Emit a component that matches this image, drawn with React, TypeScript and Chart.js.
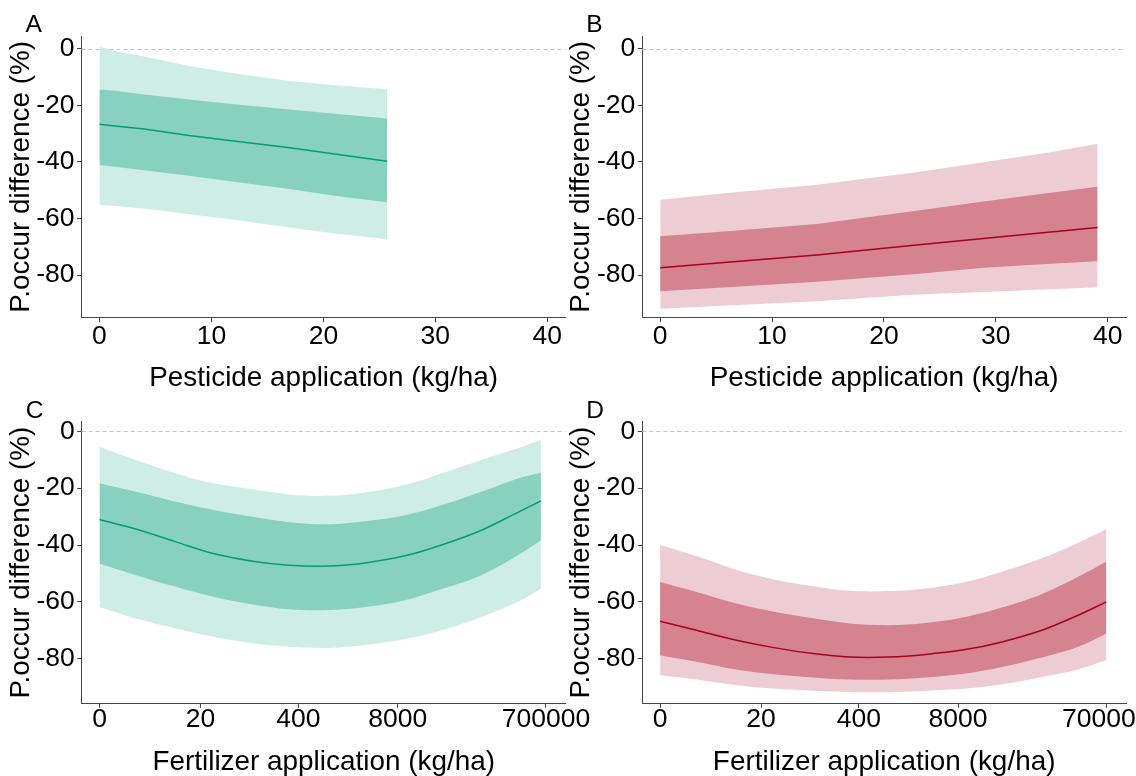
import React, { useEffect, useRef } from "react";
import { Chart, registerables } from "chart.js";

Chart.register(...registerables);

const FONT = '"Liberation Sans", Arial, Helvetica, sans-serif';

// ---------- Panel A : pesticide (teal) ----------
const pestA_x = [0, 1.2, 4, 8, 12, 17, 21, 25.7];
const pestA_outerHi = [0.7, -0.7, -2.8, -6.1, -8.7, -11.4, -12.9, -14.3];
const pestA_innerHi = [-14.4, -14.8, -16.2, -18.0, -19.6, -21.5, -23.0, -24.7];
const pestA_mean = [-26.7, -27.2, -28.4, -30.7, -32.6, -35.0, -37.2, -39.8];
const pestA_innerLo = [-41.1, -41.6, -43.0, -44.9, -47.0, -49.6, -52.0, -54.3];
const pestA_outerLo = [-55.2, -55.5, -56.5, -58.5, -60.5, -63.2, -65.3, -67.4];

// ---------- Panel B : pesticide (red) ----------
const pestB_x = [0, 6, 14, 22.9, 28.9, 34.9, 39.1];
const pestB_outerHi = [-53.4, -51.0, -48.1, -43.7, -40.1, -36.6, -33.6];
const pestB_innerHi = [-66.3, -64.5, -62.0, -57.3, -54.0, -50.9, -48.8];
const pestB_mean = [-77.4, -75.5, -72.9, -69.4, -67.1, -64.8, -63.2];
const pestB_innerLo = [-85.7, -84.3, -82.4, -79.6, -77.4, -76.0, -75.1];
const pestB_outerLo = [-91.9, -90.8, -89.3, -86.9, -86.0, -85.0, -84.3];

// ---------- Panel C : fertilizer (teal) ----------
const fertC_x = [0, 2, 9, 30, 100, 300, 1000, 3000, 10000, 30000, 100000, 300000, 600000];
const fertC_outerHi = [-5.4, -10.1, -14.8, -18.3, -20.4, -22.2, -22.7, -21.5, -18.9, -14.8, -10.1, -6.0, -3.1];
const fertC_innerHi = [-18.3, -21.3, -24.8, -27.7, -30.1, -32.0, -32.7, -31.6, -29.5, -26.0, -21.3, -16.6, -14.6];
const fertC_mean = [-31.0, -34.4, -38.9, -43.0, -45.7, -47.1, -47.4, -46.3, -43.8, -40.0, -34.8, -28.5, -24.5];
const fertC_innerLo = [-46.5, -50.6, -54.7, -58.2, -60.9, -62.6, -62.9, -61.8, -59.4, -55.5, -50.6, -43.6, -38.3];
const fertC_outerLo = [-61.8, -65.9, -69.4, -72.3, -74.6, -75.8, -76.2, -75.2, -73.1, -70.0, -65.3, -60.0, -55.3];

// ---------- Panel D : fertilizer (red) ----------
const fertD_x = [0, 2, 9, 30, 100, 300, 1000, 3000, 10000, 30000, 100000, 300000, 700000];
const fertD_outerHi = [-40.0, -43.9, -48.8, -52.1, -54.5, -56.1, -56.2, -55.3, -53.0, -49.4, -44.7, -39.2, -34.5];
const fertD_innerHi = [-53.0, -56.5, -60.6, -63.5, -65.8, -67.6, -68.2, -67.4, -65.3, -62.0, -57.3, -51.2, -45.9];
const fertD_mean = [-66.8, -70.0, -73.5, -76.1, -78.2, -79.4, -79.4, -78.5, -76.8, -74.1, -70.0, -64.7, -60.0];
const fertD_innerLo = [-78.8, -81.1, -83.8, -85.5, -86.6, -87.3, -87.3, -86.6, -85.2, -82.9, -79.6, -75.8, -71.1];
const fertD_outerLo = [-85.8, -87.3, -89.3, -90.5, -91.3, -91.7, -91.8, -91.3, -90.5, -89.0, -86.4, -83.8, -80.5];

// ---------- Axes ----------
const yTickValues = [-80, -60, -40, -20, 0];
const yTickLabels = ["-80", "-60", "-40", "-20", "0"];
const pestTickValues = [0, 10, 20, 30, 40];
const pestTickLabels = ["0", "10", "20", "30", "40"];
const fertTickValues = [0, 20, 400, 8000, 700000];
const fertTickLabels = ["0", "20", "400", "8000", "700000"];

const yTitle = "P.occur difference (%)";
const pestTitle = "Pesticide application (kg/ha)";
const fertTitle = "Fertilizer application (kg/ha)";

const TEAL = { line: "#009E73", inner: "#88D1C1", outer: "#CDEDE5" };
const RED = { line: "#A8001E", inner: "#D4838F", outer: "#EDCCD3" };

const logT = (v: number) => Math.log10(v + 1);
const ident = (v: number) => v;

const W = 1136;
const H = 776;
const YW = 60;
const XH = 40;
const TICK_SIZE = 26.5;
const TITLE_SIZE = 27.9;

interface Panel {
  letter: string;
  xTitle: string;
  xs: number[];
  tf: (v: number) => number;
  outerHi: number[];
  innerHi: number[];
  mean: number[];
  innerLo: number[];
  outerLo: number[];
  col: { line: string; inner: string; outer: string };
  area: { l: number; r: number; t: number; b: number };
  xMin: number;
  xMax: number;
  yMin: number;
  yMax: number;
  xTickVals: number[];
  xTickLabels: string[];
  xPad: number;
  xTitleOff: number;
  smooth: boolean;
}

const panels: Panel[] = [
  {
    letter: "A", xTitle: pestTitle, xs: pestA_x, tf: ident,
    outerHi: pestA_outerHi, innerHi: pestA_innerHi, mean: pestA_mean, innerLo: pestA_innerLo, outerLo: pestA_outerLo,
    col: TEAL, area: { l: 81.5, r: 565.7, t: 36, b: 317.7 },
    xMin: -1.6, xMax: 41.64, yMin: -95.09, yMax: 4.49,
    xTickVals: pestTickValues, xTickLabels: pestTickLabels, xPad: 1.5, xTitleOff: 68.7, smooth: false,
  },
  {
    letter: "B", xTitle: pestTitle, xs: pestB_x, tf: ident,
    outerHi: pestB_outerHi, innerHi: pestB_innerHi, mean: pestB_mean, innerLo: pestB_innerLo, outerLo: pestB_outerLo,
    col: RED, area: { l: 642.3, r: 1126, t: 36, b: 317.7 },
    xMin: -1.6, xMax: 41.64, yMin: -95.09, yMax: 4.49,
    xTickVals: pestTickValues, xTickLabels: pestTickLabels, xPad: 1.5, xTitleOff: 68.7, smooth: false,
  },
  {
    letter: "C", xTitle: fertTitle, xs: fertC_x, tf: logT,
    outerHi: fertC_outerHi, innerHi: fertC_innerHi, mean: fertC_mean, innerLo: fertC_innerLo, outerLo: fertC_outerLo,
    col: TEAL, area: { l: 81.7, r: 565.7, t: 421.7, b: 703.3 },
    xMin: -0.233, xMax: 6.103, yMin: -95.69, yMax: 3.38,
    xTickVals: fertTickValues.map(logT), xTickLabels: fertTickLabels, xPad: -1.5, xTitleOff: 66.4, smooth: true,
  },
  {
    letter: "D", xTitle: fertTitle, xs: fertD_x, tf: logT,
    outerHi: fertD_outerHi, innerHi: fertD_innerHi, mean: fertD_mean, innerLo: fertD_innerLo, outerLo: fertD_outerLo,
    col: RED, area: { l: 642.3, r: 1126, t: 421.7, b: 703.3 },
    xMin: -0.233, xMax: 6.103, yMin: -95.69, yMax: 3.38,
    xTickVals: fertTickValues.map(logT), xTickLabels: fertTickLabels, xPad: -1.5, xTitleOff: 66.4, smooth: true,
  },
];

function makeChart(canvas: HTMLCanvasElement, p: Panel) {
  const pts = (ys: number[]) => p.xs.map((x, i) => ({ x: p.tf(x), y: ys[i] }));
  const interp = p.smooth ? { tension: 0.35 } : { tension: 0 };
  const band = (ys: number[], color: string | null) => ({
    data: pts(ys),
    borderWidth: 0,
    borderColor: "rgba(0,0,0,0)",
    backgroundColor: color || "rgba(0,0,0,0)",
    pointRadius: 0,
    fill: color ? "+1" : false,
    ...interp,
  });

  const panelPlugin = {
    id: "panelDeco" + p.letter,
    beforeDatasetsDraw(chart: any) {
      const ctx = chart.ctx;
      const a = chart.chartArea;
      const y0 = Math.round(chart.scales.y.getPixelForValue(0)) + 0.5;
      ctx.save();
      ctx.strokeStyle = "#C4C4C4";
      ctx.lineWidth = 1;
      ctx.setLineDash([4, 3]);
      ctx.beginPath();
      ctx.moveTo(a.left, y0);
      ctx.lineTo(a.right, y0);
      ctx.stroke();
      ctx.restore();
    },
    afterDraw(chart: any) {
      const ctx = chart.ctx;
      const a = chart.chartArea;
      ctx.save();
      ctx.fillStyle = "#000";
      ctx.textBaseline = "alphabetic";
      // x title
      ctx.font = `${TITLE_SIZE}px ${FONT}`;
      ctx.textAlign = "center";
      ctx.fillText(p.xTitle, (a.left + a.right) / 2, a.bottom + p.xTitleOff);
      // y title
      ctx.save();
      ctx.translate(a.left - 53, (a.top + a.bottom) / 2);
      ctx.rotate(-Math.PI / 2);
      ctx.fillText(yTitle, 0, 0);
      ctx.restore();
      // panel letter
      ctx.font = `24.5px ${FONT}`;
      ctx.textAlign = "left";
      ctx.fillText(p.letter, a.left - 56, a.top - 3.7);
      ctx.restore();
    },
  };

  return new Chart(canvas, {
    type: "line",
    data: {
      datasets: [
        {
          data: pts(p.mean),
          borderColor: p.col.line,
          borderWidth: 1.5,
          pointRadius: 0,
          fill: false,
          ...interp,
        } as any,
        band(p.innerHi, p.col.inner) as any,
        band(p.innerLo, null) as any,
        band(p.outerHi, p.col.outer) as any,
        band(p.outerLo, null) as any,
      ],
    },
    options: {
      animation: false,
      responsive: false,
      devicePixelRatio: 1,
      events: [],
      layout: {
        padding: {
          left: p.area.l - YW,
          right: W - p.area.r,
          top: p.area.t,
          bottom: H - p.area.b - XH,
        },
      },
      plugins: {
        legend: { display: false },
        tooltip: { enabled: false },
        title: { display: false },
      },
      scales: {
        x: {
          type: "linear",
          min: p.xMin,
          max: p.xMax,
          afterBuildTicks: (s: any) => {
            s.ticks = p.xTickVals.map((v) => ({ value: v }));
          },
          afterFit: (s: any) => {
            s.height = XH;
            s.paddingLeft = 0;
            s.paddingRight = 0;
          },
          ticks: {
            autoSkip: false,
            maxRotation: 0,
            minRotation: 0,
            color: "#000",
            padding: p.xPad,
            font: { family: FONT, size: TICK_SIZE, lineHeight: 1 },
            callback: (_v: any, i: number) => p.xTickLabels[i],
          },
          grid: {
            display: true,
            drawOnChartArea: false,
            drawTicks: true,
            tickLength: 4.5,
            color: "#444",
            lineWidth: 1,
          },
          border: { display: true, color: "#444", width: 1 },
        },
        y: {
          type: "linear",
          min: p.yMin,
          max: p.yMax,
          afterBuildTicks: (s: any) => {
            s.ticks = yTickValues.map((v) => ({ value: v }));
          },
          afterFit: (s: any) => {
            s.width = YW;
          },
          ticks: {
            autoSkip: false,
            color: "#000",
            padding: 2.5,
            font: { family: FONT, size: TICK_SIZE, lineHeight: 1 },
            callback: (_v: any, i: number) => yTickLabels[i],
          },
          grid: {
            display: true,
            drawOnChartArea: false,
            drawTicks: true,
            tickLength: 4.5,
            color: "#444",
            lineWidth: 1,
          },
          border: { display: true, color: "#444", width: 1 },
        },
      },
    } as any,
    plugins: [panelPlugin],
  });
}

function PanelCanvas({ p }: { p: Panel }) {
  const ref = useRef<HTMLCanvasElement | null>(null);
  useEffect(() => {
    if (!ref.current) return;
    const c = makeChart(ref.current, p);
    return () => c.destroy();
  }, [p]);
  return (
    <canvas
      ref={ref}
      width={W}
      height={H}
      style={{ position: "absolute", left: 0, top: 0, width: W, height: H }}
    />
  );
}

export default function App() {
  return (
    <div
      style={{
        position: "fixed",
        left: 0,
        top: 0,
        width: W,
        height: H,
        background: "#fff",
        overflow: "hidden",
      }}
    >
      {panels.map((p) => (
        <PanelCanvas key={p.letter} p={p} />
      ))}
    </div>
  );
}
